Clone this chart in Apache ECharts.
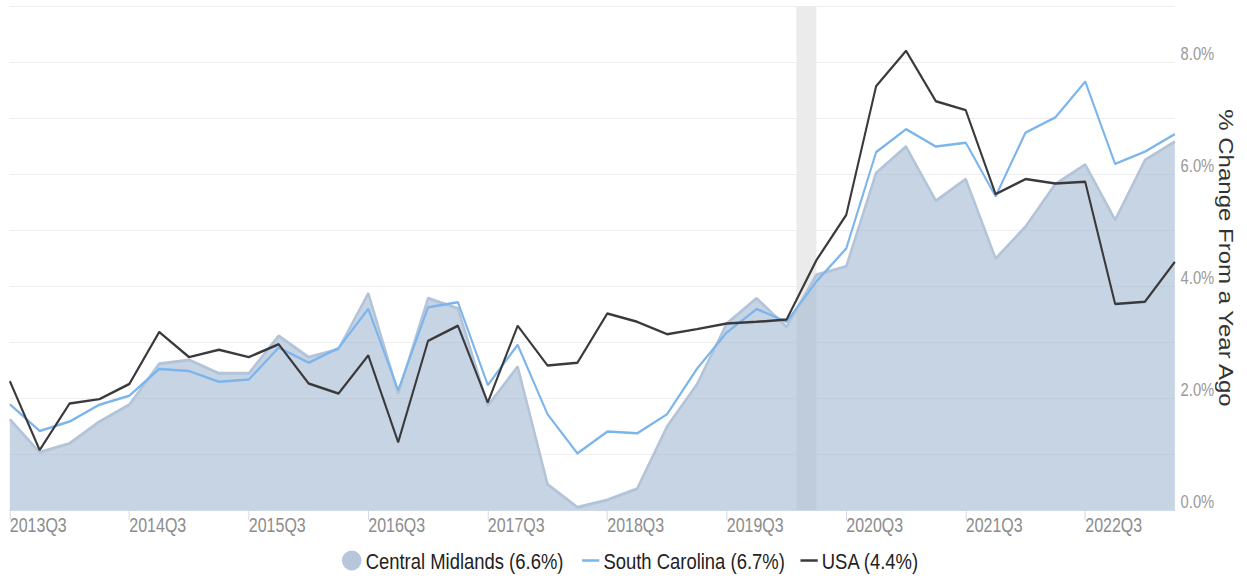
<!DOCTYPE html>
<html>
<head>
<meta charset="utf-8">
<script src="https://cdn.jsdelivr.net/npm/echarts@6/dist/echarts.min.js"></script>
<style>
  html, body { margin: 0; padding: 0; background: #fff; }
  #wrap { width: 1247px; height: 579px; overflow: hidden; }
  /* source chart is horizontally condensed, so draw wider and squeeze */
  #chart { width: 1521px; height: 579px; transform: scaleX(0.81986); transform-origin: 0 0; }
</style>
</head>
<body>
<div id="wrap"><div id="chart"></div></div>
<script>
const quarters = [
  '2013Q3', '2013Q4', '2014Q1', '2014Q2', '2014Q3', '2014Q4', '2015Q1', '2015Q2',
  '2015Q3', '2015Q4', '2016Q1', '2016Q2', '2016Q3', '2016Q4', '2017Q1', '2017Q2',
  '2017Q3', '2017Q4', '2018Q1', '2018Q2', '2018Q3', '2018Q4', '2019Q1', '2019Q2',
  '2019Q3', '2019Q4', '2020Q1', '2020Q2', '2020Q3', '2020Q4', '2021Q1', '2021Q2',
  '2021Q3', '2021Q4', '2022Q1', '2022Q2', '2022Q3', '2022Q4', '2023Q1', '2023Q2'
]
const centralMidlands = [
  1.62, 1.03, 1.19, 1.58, 1.88, 2.61, 2.68, 2.44, 2.44, 3.11,
  2.73, 2.87, 3.87, 2.08, 3.78, 3.60, 1.86, 2.56, 0.46, 0.05,
  0.18, 0.38, 1.49, 2.24, 3.33, 3.78, 3.27, 4.20, 4.35, 6.02,
  6.49, 5.52, 5.91, 4.49, 5.06, 5.82, 6.17, 5.18, 6.25, 6.58
]
const southCarolina = [
  1.89, 1.41, 1.58, 1.88, 2.04, 2.52, 2.48, 2.29, 2.33, 2.90,
  2.63, 2.89, 3.59, 2.14, 3.62, 3.71, 2.23, 2.95, 1.71, 1.01,
  1.40, 1.37, 1.71, 2.52, 3.17, 3.59, 3.36, 4.08, 4.67, 6.39,
  6.80, 6.49, 6.56, 5.60, 6.74, 7.01, 7.65, 6.18, 6.40, 6.71
]
const usa = [
  2.30, 1.07, 1.90, 1.98, 2.25, 3.18, 2.73, 2.86, 2.73, 2.96,
  2.26, 2.08, 2.76, 1.21, 3.02, 3.29, 1.92, 3.29, 2.58, 2.63,
  3.51, 3.36, 3.14, 3.23, 3.33, 3.36, 3.40, 4.46, 5.27, 7.57,
  8.20, 7.30, 7.14, 5.64, 5.91, 5.83, 5.86, 3.68, 3.72, 4.43
]
// recession band, in quarter-index units
const recession = [26.33, 27.0]
const seriesNames = ['Central Midlands (6.6%)', 'South Carolina (6.7%)', 'USA (4.4%)']

const font = "'Liberation Sans', Arial, sans-serif"

const myChart = echarts.init(document.getElementById('chart'), null, { renderer: 'svg' })
const option = {
  animation: false,
  grid: { left: 12, right: 88, top: 6, bottom: 69, containLabel: false, outerBoundsMode: 'none' },
  legend: [
    {
      left: 412,
      top: 544,
      itemWidth: 24,
      itemHeight: 20,
      symbolKeepAspect: false,
      textStyle: { color: '#222', fontSize: 22.5, fontFamily: font },
      data: [{ name: seriesNames[0], icon: 'path://M12,0A12,10,0,1,1,12,20A12,10,0,1,1,12,0Z' }]
    },
    {
      left: 705,
      top: 544,
      itemGap: 19,
      itemWidth: 21,
      itemHeight: 2.5,
      icon: 'rect',
      textStyle: { color: '#222', fontSize: 22.5, fontFamily: font },
      data: [seriesNames[1], seriesNames[2]]
    }
  ],
  xAxis: [
    {
      type: 'category',
      boundaryGap: false,
      data: quarters,
      axisLine: { lineStyle: { color: '#ccd6eb' } },
      axisTick: { show: true, interval: 3, length: 10, lineStyle: { color: '#ccd6eb' } },
      axisLabel: {
        interval: 3,
        align: 'left',
        margin: 5,
        color: '#8c8c8c',
        fontSize: 19.5,
        fontFamily: font
      },
      splitLine: { show: false }
    },
    {
      type: 'value',
      show: false,
      min: 0,
      max: quarters.length - 1
    }
  ],
  yAxis: {
    type: 'value',
    position: 'right',
    min: 0,
    max: 9,
    interval: 1,
    name: '% Change From a Year Ago',
    nameLocation: 'middle',
    nameRotate: -90,
    nameGap: 50,
    nameMoveOverlap: false,
    nameTextStyle: { color: '#333', fontSize: 24, fontFamily: font },
    axisLine: { show: false },
    axisTick: { show: false },
    axisLabel: {
      margin: 7,
      verticalAlign: 'bottom',
      color: '#999',
      fontSize: 18,
      fontFamily: font,
      formatter: function (v) {
        return v % 2 === 0 && v < 9 ? v.toFixed(1) + '%' : ''
      }
    },
    splitLine: { lineStyle: { color: '#ececec' } }
  },
  series: [
    {
      name: 'recession',
      type: 'line',
      xAxisIndex: 1,
      data: [],
      z: 0,
      silent: true,
      markArea: {
        silent: true,
        itemStyle: { color: '#ebebeb' },
        data: [[{ xAxis: recession[0] }, { xAxis: recession[1] }]]
      }
    },
    {
      name: seriesNames[0],
      type: 'line',
      data: centralMidlands,
      symbol: 'none',
      z: 2,
      itemStyle: { color: '#b6c7dc' },
      lineStyle: { color: '#b3c4d9', width: 3 },
      areaStyle: { color: '#a2b7d2', opacity: 0.6 }
    },
    {
      name: seriesNames[1],
      type: 'line',
      data: southCarolina,
      symbol: 'none',
      z: 3,
      itemStyle: { color: '#7cb5ec' },
      lineStyle: { color: '#7cb5ec', width: 2.5 }
    },
    {
      name: seriesNames[2],
      type: 'line',
      data: usa,
      symbol: 'none',
      z: 4,
      itemStyle: { color: '#3a3a3c' },
      lineStyle: { color: '#3a3a3c', width: 2.5 }
    }
  ]
}
myChart.setOption(option)
</script>
</body>
</html>
